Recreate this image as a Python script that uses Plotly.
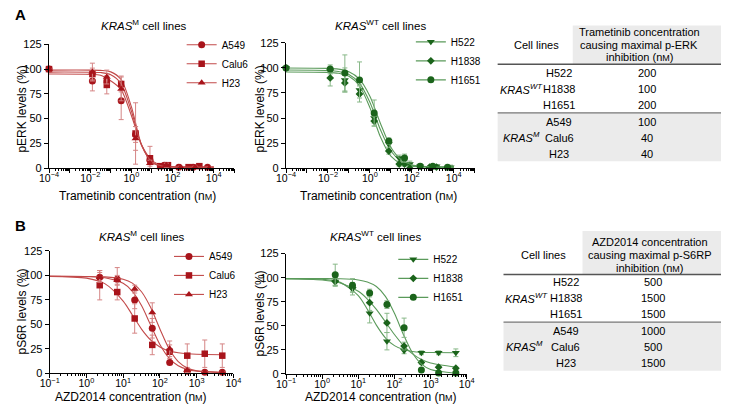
import plotly.graph_objects as go

# ---------------- DATA ----------------
# Panel A: Trametinib (nM) vs pERK levels (%)
A549_x = [1e-4, 0.0128, 0.064, 0.32, 1.6, 8, 40, 200, 1000, 5000]
A549_y = [100, 88, 88, 68, 34, 8, 3, 1, 1, 1]
A549_e = [0, 10, 5, 19, 8, 4, 2, 1, 1, 1]
Calu6_x = [1e-4, 0.0128, 0.064, 0.32, 1.6, 8, 25, 60, 600, 2000]
Calu6_y = [100, 95, 84, 85, 35, 10, 2, 3, 1, 2]
Calu6_e = [0, 6, 9, 8, 31, 12, 2, 2, 1, 1]
H23_x = [1e-4, 0.0128, 0.064, 0.32, 1.6, 8, 50, 250, 1250, 6000]
H23_y = [100, 97, 92, 80, 30, 5, 3, 1, 1, 0]
H23_e = [0, 9, 7, 12, 12, 3, 2, 1, 1, 1]

H522_x = [1e-4, 0.0128, 0.064, 0.32, 1.6, 8, 25, 80, 250, 1500, 7000]
H522_y = [100, 97, 88, 78, 50, 24, 10, 4, 2, 2, 1]
H522_e = [0, 3, 12, 5, 5, 3, 3, 3, 2, 1, 2]
H1838_x = [1e-4, 0.0128, 0.064, 0.32, 1.6, 8, 25, 45, 80, 700, 1500]
H1838_y = [100, 90, 85, 74, 47, 17, 4, 4, 0, 1, 1]
H1838_e = [0, 8, 9, 8, 5, 3, 2, 2, 1, 1, 1]
H1651_x = [1e-4, 0.0128, 0.064, 0.32, 1.6, 8, 45, 250, 1000, 5000]
H1651_y = [100, 99, 95, 88, 55, 27, 10, 2, 2, 1]
H1651_e = [0, 4, 18, 18, 13, 3, 4, 2, 1, 1]

# fitted curves
tram_fit_x = [1e-4, 1e-2, 0.0316, 0.1, 0.316, 1, 3.16, 10, 31.6, 100, 316, 1000, 10000]
A549_fit = [95, 94.7, 93.8, 88.1, 79.3, 53.2, 23.4, 7.9, 2.8, 1.5, 1.1, 1.0, 1.0]
Calu6_fit = [99, 99, 98.7, 97.2, 89.5, 62.1, 23.3, 5.9, 1.9, 1.2, 1.0, 1.0, 1.0]
H23_fit = [97, 96.9, 96.5, 94.4, 85.4, 57.7, 22.5, 6.2, 2.1, 1.2, 1.0, 1.0, 1.0]
H522_fit = [98, 97.5, 96.5, 93.4, 84.8, 65.7, 38.5, 17.1, 6.8, 2.9, 1.6, 1.2, 1.0]
H1838_fit = [96, 95.6, 94.7, 91.6, 82.2, 60.4, 31.3, 12.0, 4.4, 2.0, 1.3, 1.1, 1.0]
H1651_fit = [100, 99.6, 98.8, 96.2, 88.9, 71.8, 44.8, 20.9, 8.3, 3.4, 1.8, 1.2, 1.0]

# Panel B: AZD2014 (nM) vs pS6R levels (%)
azd_x = [2.3, 6.9, 20.6, 62, 185, 556, 1667, 5000]
bA549_y = [98, 96, 75, 46, 11, 2, 1, 1]
bA549_e = [7, 12, 9, 10, 2, 2, 1, 1]
bCalu6_y = [90, 83, 56, 29, 22, 18, 20, 18]
bCalu6_e = [15, 8, 15, 10, 7, 12, 14, 12]
bH23_y = [98, 95, 86, 62, 25, 3, 1, 1]
bH23_e = [5, 5, 4, 10, 8, 2, 1, 1]
bH522_y = [96, 88, 63, 34, 24, 22, 22, 22]
bH522_e = [4, 6, 10, 9, 3, 2, 2, 4]
bH1838_y = [96, 90, 74, 53, 29, 12, 7, 6]
bH1838_e = [5, 5, 8, 10, 4, 2, 1, 1]
bH1651_y = [103, 92, 84, 72, 48, 4, 1, 1]
bH1651_e = [11, 7, 4, 4, 10, 2, 1, 1]

azd_fit_x = [0.1, 1, 3.16, 10, 17.8, 31.6, 56.2, 100, 178, 316, 562, 1000, 5000]
bA549_fit = [99, 98.8, 97.7, 91.9, 83.8, 69.2, 49.2, 29.4, 15.4, 7.6, 3.9, 2.2, 1.1]
bCalu6_fit = [99, 97.2, 91.6, 73.8, 59.6, 45.2, 34.0, 26.9, 22.9, 20.9, 19.9, 19.4, 19.0]
bH23_fit = [99, 98.9, 98.5, 96.1, 92.1, 83.3, 67.1, 45.3, 25.0, 12.0, 5.4, 2.5, 0.6]
bH522_fit = [99, 98.3, 95.1, 81.3, 67.1, 50.7, 37.5, 29.4, 25.3, 23.4, 22.6, 22.3, 22.0]
bH1838_fit = [98.8, 97.5, 94.4, 85.8, 77.8, 67.0, 54.1, 41.0, 29.5, 20.9, 15.0, 11.3, 7.1]
bH1651_fit = [99, 99, 98.8, 97.6, 95.5, 90.8, 80.6, 63.0, 40.8, 21.8, 10.2, 4.6, 0.8]

# Tables
tab_cells = ["H522", "H1838", "H1651", "A549", "Calu6", "H23"]
tabA_vals = ["200", "100", "200", "100", "40", "40"]
tabB_vals = ["500", "1500", "1500", "1000", "500", "1500"]

y_ticks = [0, 25, 50, 75, 100, 125]

# ---------------- STYLE ----------------
W, H = 729, 412
FONT = "Liberation Sans, Arial, sans-serif"
RED_M, RED_L, RED_E = "#a8141b", "#c24a4a", "#d58585"
GRN_M, GRN_L, GRN_E = "#1b641b", "#5a9a5a", "#88b888"

def px(x):
    return x / W

def py(y):
    return 1 - y / H

fig = go.Figure()

def add_series(name, x, y, e, fx, fy, sym, size, idx, leg, colors):
    mc, lc, ec = colors
    xa = "x" if idx == 1 else f"x{idx}"
    ya = "y" if idx == 1 else f"y{idx}"
    fig.add_trace(go.Scatter(x=fx, y=fy, mode="lines", line=dict(color=lc, width=1.1, shape="spline", smoothing=0.8),
                             xaxis=xa, yaxis=ya, showlegend=False, hoverinfo="skip"))
    fig.add_trace(go.Scatter(x=x, y=y, mode="markers",
                             marker=dict(symbol=sym, size=size, color=mc, line=dict(width=0)),
                             error_y=dict(type="data", array=e, color=ec, thickness=1, width=2.5),
                             cliponaxis=False, xaxis=xa, yaxis=ya, showlegend=False, name=name))
    fig.add_trace(go.Scatter(x=[None], y=[None], mode="lines+markers", name=name,
                             marker=dict(symbol=sym, size=size, color=mc),
                             line=dict(color=lc, width=1.1), xaxis=xa, yaxis=ya, legend=leg))

RED = (RED_M, RED_L, RED_E)
GRN = (GRN_M, GRN_L, GRN_E)

add_series("A549", A549_x, A549_y, A549_e, tram_fit_x, A549_fit, "circle", 7, 1, "legend", RED)
add_series("Calu6", Calu6_x, Calu6_y, Calu6_e, tram_fit_x, Calu6_fit, "square", 6.5, 1, "legend", RED)
add_series("H23", H23_x, H23_y, H23_e, tram_fit_x, H23_fit, "triangle-up", 7, 1, "legend", RED)

add_series("H522", H522_x, H522_y, H522_e, tram_fit_x, H522_fit, "triangle-down", 7, 2, "legend2", GRN)
add_series("H1838", H1838_x, H1838_y, H1838_e, tram_fit_x, H1838_fit, "diamond", 6, 2, "legend2", GRN)
add_series("H1651", H1651_x, H1651_y, H1651_e, tram_fit_x, H1651_fit, "circle", 7, 2, "legend2", GRN)

add_series("A549", azd_x, bA549_y, bA549_e, azd_fit_x, bA549_fit, "circle", 7, 3, "legend3", RED)
add_series("Calu6", azd_x, bCalu6_y, bCalu6_e, azd_fit_x, bCalu6_fit, "square", 6.5, 3, "legend3", RED)
add_series("H23", azd_x, bH23_y, bH23_e, azd_fit_x, bH23_fit, "triangle-up", 7, 3, "legend3", RED)

add_series("H522", azd_x, bH522_y, bH522_e, azd_fit_x, bH522_fit, "triangle-down", 7, 4, "legend4", GRN)
add_series("H1838", azd_x, bH1838_y, bH1838_e, azd_fit_x, bH1838_fit, "diamond", 6, 4, "legend4", GRN)
add_series("H1651", azd_x, bH1651_y, bH1651_e, azd_fit_x, bH1651_fit, "circle", 7, 4, "legend4", GRN)

def decade_ticks(lo, hi, label_every):
    vals, txt, minor = [], [], []
    for n in range(lo, hi + 1):
        vals.append(10.0 ** n)
        if (n - lo) % label_every == 0:
            s = str(n).replace("-", "\u2212")
            txt.append(f"10<sup>{s}</sup>")
        else:
            txt.append("")
        if n < hi:
            for k in range(2, 10):
                minor.append(k * 10.0 ** n)
    return vals, txt, minor

def xaxis_cfg(domain, lo, hi, label_every, anchor):
    vals, txt, minor = decade_ticks(lo, hi, label_every)
    return dict(type="log", domain=domain, range=[lo, hi], anchor=anchor,
                showgrid=False, zeroline=False, showline=True, linecolor="black", linewidth=1.2,
                ticks="outside", ticklen=4, tickwidth=1, tickcolor="black",
                tickmode="array", tickvals=vals, ticktext=txt, ticklabelstandoff=-4,
                tickfont=dict(size=10.5, color="black", family=FONT),
                minor=dict(ticks="outside", ticklen=2, tickwidth=0.8, tickcolor="black",
                           tickmode="array", tickvals=minor, showgrid=False))

def yaxis_cfg(domain, anchor):
    return dict(domain=domain, range=[0, 125], anchor=anchor,
                showgrid=False, zeroline=False, showline=True, linecolor="black", linewidth=1.2,
                ticks="outside", ticklen=4, tickwidth=1, tickcolor="black",
                tickmode="array", tickvals=y_ticks,
                tickfont=dict(size=11, color="black", family=FONT))

fig.update_layout(
    xaxis=xaxis_cfg([px(40), px(230)], -4, 5, 2, "y"),
    yaxis=yaxis_cfg([py(167), py(39.5)], "x"),
    xaxis2=xaxis_cfg([px(283), px(476.5)], -4, 5, 2, "y2"),
    yaxis2=yaxis_cfg([py(167), py(38)], "x2"),
    xaxis3=xaxis_cfg([px(40.7), px(229)], -1, 4, 1, "y3"),
    yaxis3=yaxis_cfg([py(378.3), py(252.3)], "x3"),
    xaxis4=xaxis_cfg([px(283), px(468.3)], -1, 4, 1, "y4"),
    yaxis4=yaxis_cfg([py(379), py(255)], "x4"),
)

def leg_cfg(xp, yp):
    return dict(x=px(xp), y=py(yp), xanchor="left", yanchor="top", bgcolor="rgba(0,0,0,0)",
                font=dict(size=10, family=FONT, color="black"), itemwidth=30, tracegroupgap=0,
                borderwidth=0)

fig.update_layout(
    legend=leg_cfg(176, 25),
    legend2=leg_cfg(411, 22),
    legend3=leg_cfg(163, 243),
    legend4=leg_cfg(393, 246),
)

ann = []
def text(x, y, s, size=10, anchor="center", angle=0, bold=False, yanchor="middle"):
    if bold:
        s = f"<b>{s}</b>"
    ann.append(dict(x=px(x), y=py(y), xref="paper", yref="paper", text=s, showarrow=False,
                    xanchor=anchor, yanchor=yanchor, textangle=angle,
                    font=dict(size=size, family=FONT, color="black")))

NM = "n<span style='font-size:9px'>M</span>"
TS = 11.5   # titles
AS = 12     # axis titles
TB = 11     # table text
text(3, 9, "A", size=15, anchor="left", bold=True)
text(3, 226, "B", size=15, anchor="left", bold=True)
text(137, 19.5, "<i>KRAS</i><sup>M</sup> cell lines", size=TS)
text(380, 19.5, "<i>KRAS</i><sup>WT</sup> cell lines", size=TS)
text(135, 236.5, "<i>KRAS</i><sup>M</sup> cell lines", size=TS)
text(375, 236.5, "<i>KRAS</i><sup>WT</sup> cell lines", size=TS)
text(12, 106, "pERK levels (%)", size=AS, angle=-90)
text(256, 106, "pERK levels (%)", size=AS, angle=-90)
text(12, 315, "pS6R levels (%)", size=AS, angle=-90)
text(256, 317, "pS6R levels (%)", size=AS, angle=-90)
text(131, 196, f"Trametinib concentration ({NM})", size=AS)
text(378, 196, f"Trametinib concentration ({NM})", size=AS)
text(124, 403, f"AZD2014 concentration ({NM})", size=AS)
text(380, 403, f"AZD2014 concentration ({NM})", size=AS)

shapes = []
def rect(x0, y0, x1, y1, color):
    shapes.append(dict(type="rect", xref="paper", yref="paper", x0=px(x0), x1=px(x1), y0=py(y1), y1=py(y0),
                       fillcolor=color, line=dict(width=0), layer="below"))

def hline(x0, x1, y, color, w):
    shapes.append(dict(type="line", xref="paper", yref="paper", x0=px(x0), x1=px(x1), y0=py(y), y1=py(y),
                       line=dict(color=color, width=w)))

SHADE = "#ebebeb"
# ---- table A
rect(577, 20, 729, 60, SHADE)
rect(500, 110, 729, 160, SHADE)
hline(500, 729, 60, "#555555", 1.5)
hline(500, 729, 110, "#777777", 1.2)
text(540, 40, "Cell lines", size=TB)
text(645, 26.7, "Trametinib concentration", size=TB)
text(645, 40, "causing maximal p-ERK", size=TB)
text(645, 53, f"inhibition ({NM})", size=TB)
rowsA = [69.3, 85.3, 101.7, 119, 136, 152.7]
for i, (c, v) in enumerate(zip(tab_cells, tabA_vals)):
    text(563, rowsA[i], c, size=TB)
    text(653, rowsA[i], v, size=TB)
text(524, 85.3, "<i>KRAS</i><sup><i>WT</i></sup>", size=TB)
text(524, 135, "<i>KRAS</i><sup><i>M</i></sup>", size=TB)

# ---- table B
rect(587, 231.7, 729, 276.5, SHADE)
rect(506, 325.7, 729, 375.7, SHADE)
hline(506, 729, 276.5, "#555555", 1.5)
hline(506, 729, 325.7, "#777777", 1.2)
text(547, 256, "Cell lines", size=TB)
text(656, 243.3, "AZD2014 concentration", size=TB)
text(656, 256.7, "causing maximal p-S6RP", size=TB)
text(656, 270, f"inhibition ({NM})", size=TB)
rowsB = [284.3, 300.3, 317.3, 335, 351, 367.7]
for i, (c, v) in enumerate(zip(tab_cells, tabB_vals)):
    text(570, rowsB[i], c, size=TB)
    text(659, rowsB[i], v, size=TB)
text(530, 300.3, "<i>KRAS</i><sup><i>WT</i></sup>", size=TB)
text(528, 350, "<i>KRAS</i><sup><i>M</i></sup>", size=TB)

fig.update_layout(
    width=W, height=H, margin=dict(l=0, r=0, t=0, b=0),
    paper_bgcolor="white", plot_bgcolor="white",
    font=dict(family=FONT, size=10, color="black"),
    annotations=ann, shapes=shapes, showlegend=True,
)

fig.write_html("out.html", config={"displayModeBar": False},
               post_script="document.body.style.margin='0';document.body.style.padding='0';")
